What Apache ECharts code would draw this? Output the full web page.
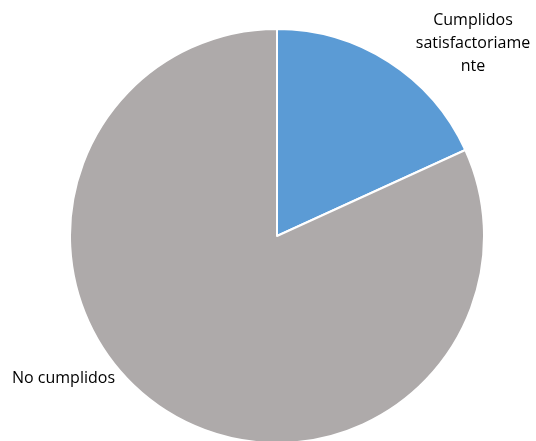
<!DOCTYPE html>
<html>
<head>
<meta charset="utf-8">
<script src="https://cdn.jsdelivr.net/npm/echarts@6/dist/echarts.min.js"></script>
<style>
html,body{margin:0;padding:0;background:#fff;}
#chart{width:536px;height:441px;}
</style>
</head>
<body>
<div id="chart"></div>
<script>
const categories = ['Cumplidos satisfactoriamente', 'No cumplidos'];
const values = [2, 9];
const labelTexts = ['Cumplidos\nsatisfactoriame\nnte', 'No cumplidos'];
const colors = ['#5B9BD5', '#AEAAAA'];

const chart = echarts.init(document.getElementById('chart'));
chart.setOption({
  animation: false,
  backgroundColor: '#ffffff',
  series: [{
    type: 'pie',
    center: [277, 236],
    radius: 207,
    startAngle: 90,
    clockwise: true,
    data: categories.map((c, i) => ({
      name: c,
      value: values[i],
      itemStyle: { color: colors[i] }
    })),
    itemStyle: { borderColor: '#ffffff', borderWidth: 2 },
    label: {
      show: true,
      position: 'outside',
      formatter: p => labelTexts[p.dataIndex],
      fontFamily: '"Open Sans", "Liberation Sans", sans-serif',
      fontSize: 16,
      lineHeight: 23,
      color: '#000',
      align: 'center',
      overflow: 'none'
    },
    labelLine: { show: false },
    labelLayout: function (p) {
      if (p.dataIndex === 0) {
        return { x: 473, y: 43, align: 'center', verticalAlign: 'middle' };
      }
      return { x: 12, y: 378, align: 'left', verticalAlign: 'middle' };
    },
    emphasis: { disabled: true }
  }]
});
</script>
</body>
</html>
